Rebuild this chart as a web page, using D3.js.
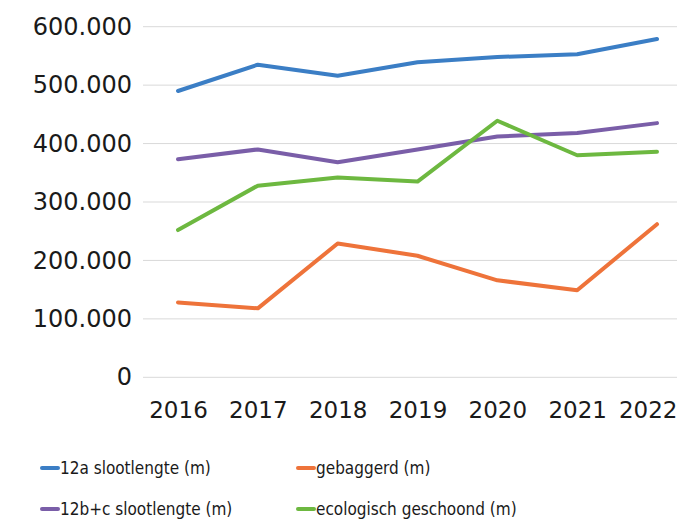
<!DOCTYPE html>
<html>
<head>
<meta charset="utf-8">
<script src="https://cdn.jsdelivr.net/npm/d3@7"></script>
<style>
  body { margin: 0; background: #fff; }
  svg { display: block; font-family: "DejaVu Sans", Verdana, sans-serif; }
</style>
</head>
<body>
<svg id="chart" width="678" height="522"></svg>
<script>
var years = ['2016', '2017', '2018', '2019', '2020', '2021', '2022'];
var yTicks = [0, 100000, 200000, 300000, 400000, 500000, 600000];

var slootlengte12a = [490000, 535000, 516000, 539000, 548000, 553000, 579000];
var gebaggerd = [128000, 118000, 229000, 208000, 166000, 149000, 262000];
var slootlengte12bc = [373000, 390000, 368000, 390000, 412000, 418000, 435000];
var ecologischGeschoond = [252000, 328000, 342000, 335000, 439000, 380000, 386000];

var seriesNames = ['12a slootlengte (m)', 'gebaggerd (m)', '12b+c slootlengte (m)', 'ecologisch geschoond (m)'];
var seriesValues = [slootlengte12a, gebaggerd, slootlengte12bc, ecologischGeschoond];
var seriesColors = ['#3b7ec5', '#ee733a', '#7a5ea8', '#6db840'];

var W = 678;
var svg = d3.select('#chart');

var x = d3.scalePoint().domain(years).range([178, 657]);
var y = d3.scaleLinear().domain([0, 600000]).range([377.3, 26.7]);

// dutch style thousands separator
var fmt = function (v) {
  return v === 0 ? '0' : d3.format(',')(v).replace(/,/g, '.');
};

// gridlines
svg.append('g')
  .selectAll('line')
  .data(yTicks)
  .enter()
  .append('line')
  .attr('x1', 143)
  .attr('x2', 677)
  .attr('y1', function (d) { return y(d); })
  .attr('y2', function (d) { return y(d); })
  .attr('stroke', '#d9d9d9')
  .attr('stroke-width', 1);

// y axis labels
var yAxis = d3.axisLeft(y).tickValues(yTicks).tickFormat(fmt).tickSize(0).tickPadding(0);
svg.append('g')
  .attr('transform', 'translate(132,0)')
  .call(yAxis)
  .call(function (g) { g.select('.domain').remove(); })
  .selectAll('text')
  .attr('font-size', 24)
  .attr('font-family', '"DejaVu Sans", Verdana, sans-serif')
  .attr('fill', '#1a1a1a');

// x axis labels
var xAxis = d3.axisBottom(x).tickSize(0).tickPadding(0);
var xText = svg.append('g')
  .attr('transform', 'translate(0,402)')
  .call(xAxis)
  .call(function (g) { g.select('.domain').remove(); })
  .selectAll('text')
  .attr('font-size', 23)
  .attr('font-family', '"DejaVu Sans", Verdana, sans-serif')
  .attr('fill', '#1a1a1a');

// keep the last year label inside the frame, like the original does
xText.each(function (d) {
  var half = this.getComputedTextLength() / 2;
  var over = x(d) + half - (W - 1);
  if (over > 0) d3.select(this).attr('x', -over);
});

// lines
var line = d3.line()
  .x(function (d, i) { return x(years[i]); })
  .y(function (d) { return y(d); });

svg.append('g')
  .selectAll('path')
  .data(seriesValues)
  .enter()
  .append('path')
  .attr('d', line)
  .attr('fill', 'none')
  .attr('stroke', function (d, i) { return seriesColors[i]; })
  .attr('stroke-width', 4)
  .attr('stroke-linecap', 'round')
  .attr('stroke-linejoin', 'round');

// legend, 2 columns
var legend = svg.append('g')
  .selectAll('g')
  .data(seriesNames)
  .enter()
  .append('g')
  .attr('transform', function (d, i) {
    return 'translate(' + (i % 2 === 0 ? 42 : 298) + ',' + (i < 2 ? 468 : 509) + ')';
  });

legend.append('line')
  .attr('x1', 0)
  .attr('x2', 16)
  .attr('stroke', function (d, i) { return seriesColors[i]; })
  .attr('stroke-width', 4)
  .attr('stroke-linecap', 'round');

legend.append('text')
  .attr('x', 18)
  .attr('dy', '0.35em')
  .attr('font-size', 17)
  .attr('font-family', '"DejaVu Sans Condensed", "DejaVu Sans", sans-serif')
  .attr('font-stretch', 'condensed')
  .attr('fill', '#1a1a1a')
  .text(function (d) { return d; });
</script>
</body>
</html>
